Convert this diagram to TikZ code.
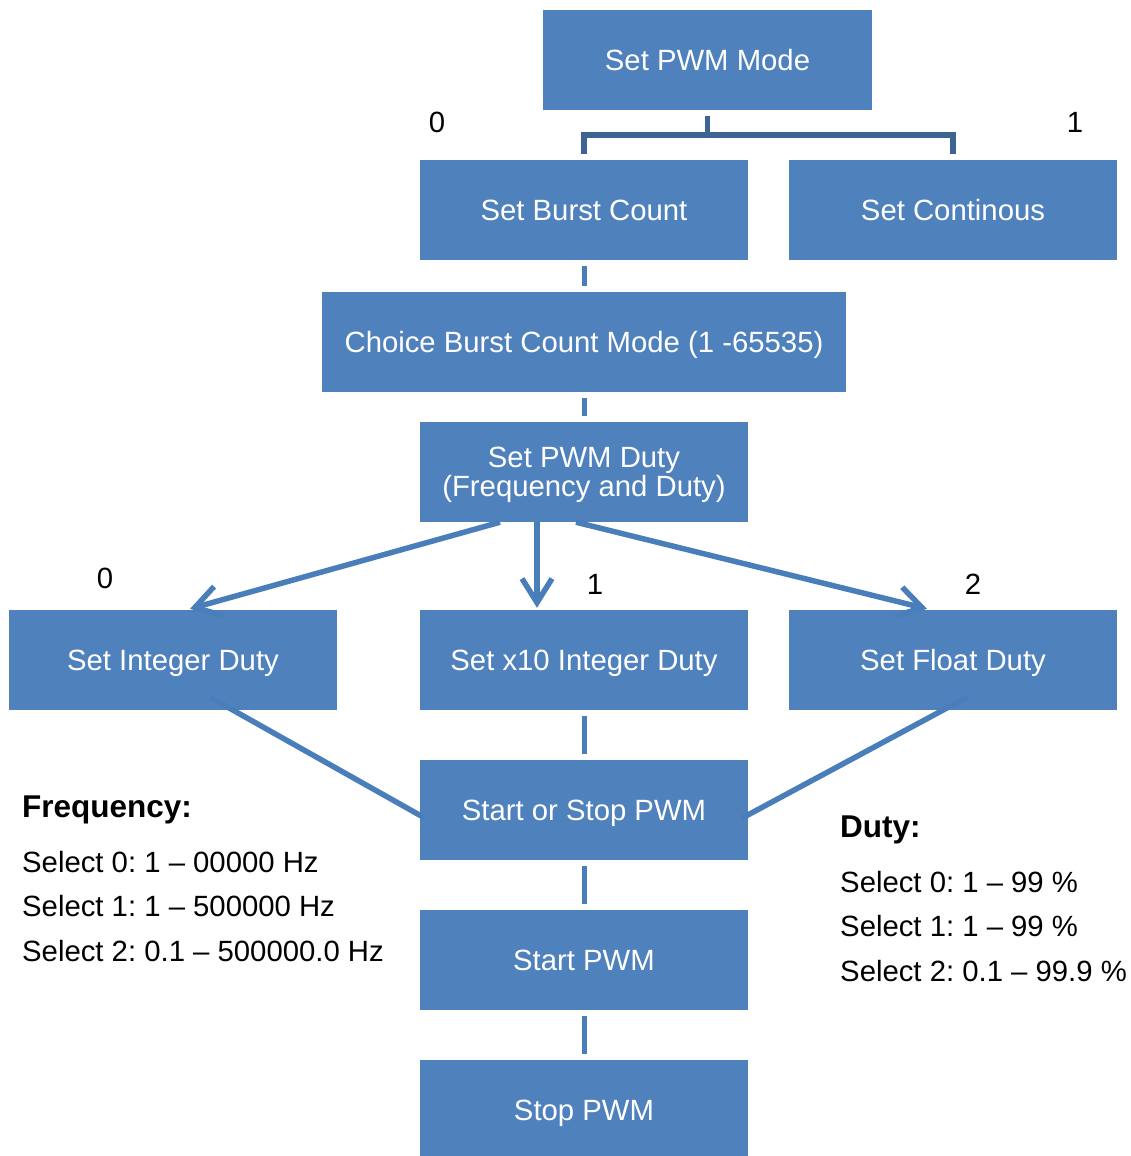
\documentclass[tikz,border=0pt]{standalone}
\usepackage{fontspec}
\setmainfont{Liberation Sans}
\usetikzlibrary{arrows.meta}
\definecolor{boxblue}{HTML}{4F81BD}
\definecolor{linkblue}{HTML}{4A7EBB}
\definecolor{brk}{RGB}{62,100,148}
\frenchspacing
\begin{document}
\frenchspacing
\begin{tikzpicture}[x=1pt,y=-1pt,
  box/.style={rectangle, fill=boxblue, text=white, minimum width=328pt, minimum height=100pt, inner sep=0pt, font=\fontsize{29.3}{29}\selectfont, align=center},
  oneline/.style={text height=21pt, text depth=0pt},
  stub/.style={draw=linkblue, line width=5pt},
  link/.style={draw=linkblue, line width=5.5pt},
  arr/.style={link, -{Straight Barb[length=24pt,width=30pt]}},
  bracket/.style={draw=brk, line width=5.5pt},
  lbl/.style={font=\fontsize{29.3}{35}\selectfont, inner sep=0pt, anchor=base},
  note/.style={font=\fontsize{29.3}{35}\selectfont, inner sep=0pt, anchor=base west},
  head/.style={font=\bfseries\fontsize{31.5}{38}\selectfont, inner sep=0pt, anchor=base west}
]
\useasboundingbox (0,0) rectangle (1130,1156);

\node[box,oneline,minimum width=329pt] (mode) at (707.5,60) {Set PWM Mode};
\node[box,oneline] (burst) at (584,210) {Set Burst Count};
\node[box,oneline] (cont) at (953,210) {Set Continous};
\node[box,oneline,minimum width=524pt] (choice) at (584,342) {Choice Burst Count Mode (1 -65535)};
\node[box,text height=50pt,text depth=2pt] (duty) at (584,472) {Set PWM Duty\\(Frequency and Duty)};
\node[box,oneline] (intd) at (173,660) {Set Integer Duty};
\node[box,oneline] (x10) at (584,660) {Set x10 Integer Duty};
\node[box,oneline] (flt) at (953,660) {Set Float Duty};
\node[box,oneline] (ss) at (584,810) {Start or Stop PWM};
\node[box,oneline] (start) at (584,960) {Start PWM};
\node[box,oneline] (stop) at (584,1110) {Stop PWM};

% bracket
\coordinate (bar) at (0,135);
\draw[bracket] ([yshift=-6pt]mode.south) -- (mode.south |- bar);
\draw[bracket] ([yshift=6pt]burst.north) -- (burst.north |- bar) -- (cont.north |- bar) -- ([yshift=6pt]cont.north);

% stubs
\draw[stub] ([yshift=-6pt]burst.south) -- ([yshift=6pt]choice.north);
\draw[stub] ([yshift=-6pt]choice.south) -- ([yshift=6pt]duty.north);
\draw[stub] ([yshift=-6pt]x10.south) -- ([yshift=6pt]ss.north);
\draw[stub] ([yshift=-6pt]ss.south) -- ([yshift=6pt]start.north);
\draw[stub] ([yshift=-6pt]start.south) -- ([yshift=6pt]stop.north);

% arrows
\draw[arr] ([xshift=-84pt]duty.south) -- ([xshift=17pt,yshift=1pt]intd.north);
\draw[arr] ([xshift=-47pt]duty.south) -- ([xshift=-47pt,yshift=2pt]x10.north);
\draw[arr] ([xshift=-8pt]duty.south) -- ([xshift=-26pt,yshift=1pt]flt.north);

% lines
\draw[link] ([xshift=37pt,yshift=13pt]intd.south) -- ([xshift=5pt,yshift=-8pt]ss.west);
\draw[link] ([xshift=14pt,yshift=13pt]flt.south) -- ([xshift=-6pt,yshift=-8pt]ss.east);

% labels
\node[lbl] (l0a) at (437,132.5) {0};
\node[lbl] (l1a) at (1075,132.5) {1};
\node[lbl] (l0b) at (105,588.5) {0};
\node[lbl] (l1b) at (595,594.5) {1};
\node[lbl] (l2b) at (973,594.5) {2};

% notes
\node[head] (fh) at (22,817) {Frequency:};
\node[note] (f0) at (22,872) {Select 0: 1 – 00000 Hz};
\node[note] (f1) at (22,916.5) {Select 1: 1 – 500000 Hz};
\node[note] (f2) at (22,961) {Select 2: 0.1 – 500000.0 Hz};
\node[head] (dh) at (840,837) {Duty:};
\node[note] (d0) at (840,892) {Select 0: 1 – 99 \%};
\node[note] (d1) at (840,936.5) {Select 1: 1 – 99 \%};
\node[note] (d2) at (840,981) {Select 2: 0.1 – 99.9 \%};
\end{tikzpicture}
\end{document}
